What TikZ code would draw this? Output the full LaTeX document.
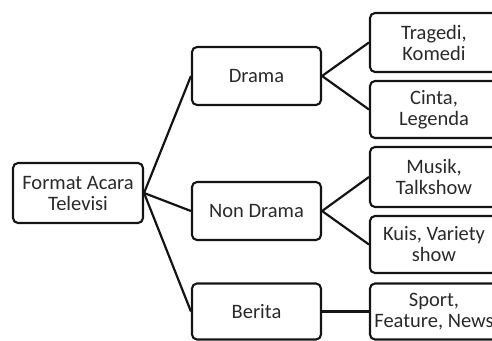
\documentclass[tikz,border=0pt]{standalone}
\usepackage{fontspec}
\setmainfont{Carlito}
\definecolor{txt}{HTML}{2A2A2A}
\definecolor{edge}{HTML}{141414}
\begin{document}
\begin{tikzpicture}[x=1pt,y=-1pt,
  box/.style={draw=edge, line width=2.1pt, rounded corners=5pt, fill=white,
    inner sep=0pt, align=center, text=txt,
    font=\fontsize{20.5}{21}\selectfont},
  link/.style={draw=edge, line width=2.2pt}]
\useasboundingbox (0,0) rectangle (492,340);
\clip (0,0) rectangle (492,340);
\node[box, minimum width=130pt, minimum height=60pt] (root) at (78,193) {Format Acara\\Televisi};
\node[box, minimum width=129pt, minimum height=58pt] (drama) at (256.5,76) {Drama};
\node[box, minimum width=129pt, minimum height=58pt] (non) at (256.5,211) {Non Drama};
\node[box, minimum width=129pt, minimum height=56pt] (berita) at (256.5,311.5) {Berita};
\node[box, minimum width=128pt, minimum height=59pt] (trag) at (434,42.5) {Tragedi,\\Komedi};
\node[box, minimum width=128pt, minimum height=57pt] (cinta) at (434,109.5) {Cinta,\\Legenda};
\node[box, minimum width=128pt, minimum height=60pt] (musik) at (434,177) {Musik,\\Talkshow};
\node[box, minimum width=128pt, minimum height=57pt] (kuis) at (434,244.5) {Kuis, Variety\\show};
\node[box, minimum width=128pt, minimum height=56pt] (sport) at (434,311.5) {Sport,\\Feature, News};
\draw[link] (root.east) -- (drama.west);
\draw[link] (root.east) -- (non.west);
\draw[link] (root.east) -- (berita.west);
\draw[link] (drama.east) -- (trag.west);
\draw[link] (drama.east) -- (cinta.west);
\draw[link] (non.east) -- (musik.west);
\draw[link] (non.east) -- (kuis.west);
\draw[link] (berita.east) -- (sport.west);
\end{tikzpicture}
\end{document}
